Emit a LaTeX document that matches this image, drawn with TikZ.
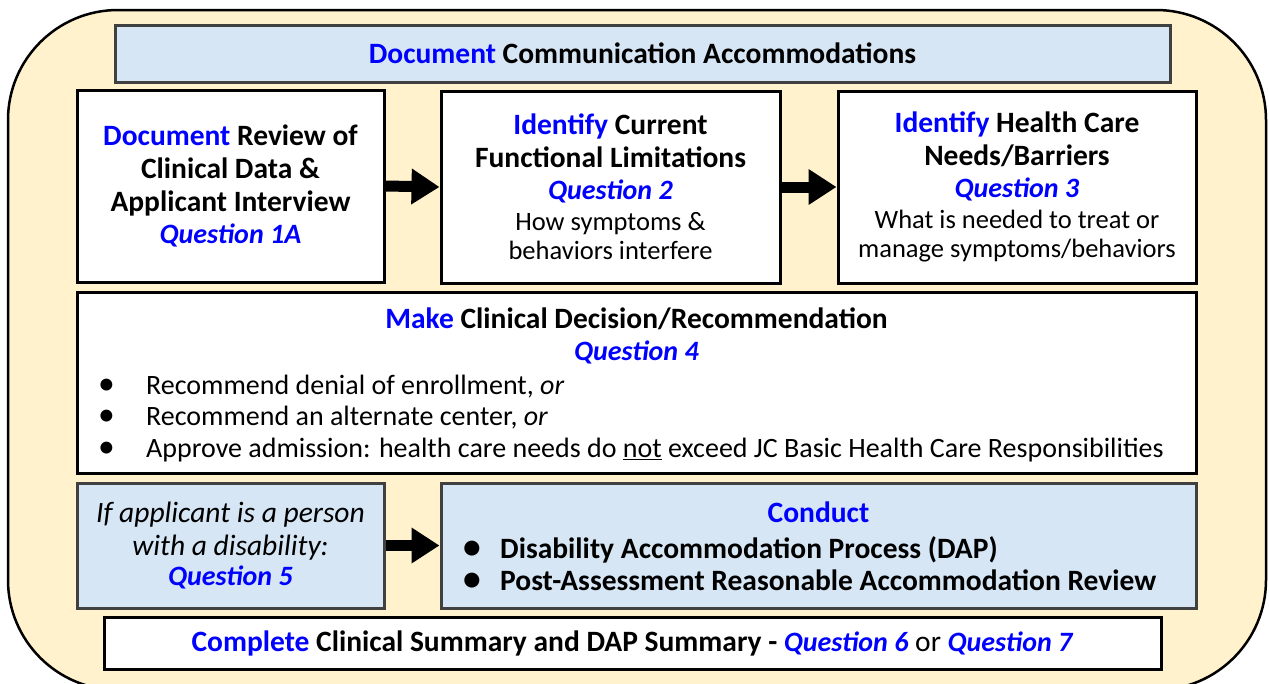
\documentclass[tikz,border=0pt]{standalone}
\usepackage{fontspec}
\setmainfont{Carlito}
\usetikzlibrary{arrows.meta}
\definecolor{cream}{RGB}{255,242,204}
\definecolor{paleblue}{RGB}{214,230,245}
\definecolor{qblue}{RGB}{0,0,255}
\definecolor{edgegray}{RGB}{64,64,64}
\newcommand{\hl}[1]{\textcolor{qblue}{#1}}
\newcommand{\qn}[1]{{\fontsize{28}{33}\selectfont\textcolor{qblue}{\textbf{\textit{#1}}}}}
\newcommand{\bigfont}{\fontsize{29.5}{33}\selectfont}
\newcommand{\midfont}{\fontsize{26.5}{30}\selectfont}
\newcommand{\listfont}{\fontsize{28}{31.5}\selectfont}
\newcommand{\bul}[1]{\makebox[#1][l]{\smash{\scalebox{1.2}{\textbullet}}}}
\begin{document}
\begin{tikzpicture}[x=1pt,y=-1pt,
  panel/.style={draw=black, line width=3pt, fill=white, inner sep=0pt, align=center},
  bluepanel/.style={draw=edgegray, line width=3pt, fill=paleblue, inner sep=0pt, align=center},
  label/.style={inner sep=0pt, align=left},
  flow/.style={line width=11pt, -{Triangle[length=28pt,width=34pt]}}]
\useasboundingbox (0,0) rectangle (1269,683);
% rounded background frame
\draw[fill=cream, line width=2.5pt, rounded corners=110pt] (8,10) rectangle (1266,690);

% top banner
\node[bluepanel, minimum width=1055pt, minimum height=57pt, font=\bigfont\bfseries]
  (comm) at (642.5,53.5) {\hl{Document} Communication Accommodations};

% first row
\node[panel, minimum width=307pt, minimum height=192pt, font=\bigfont]
  (review) at (230.5,186) {\textbf{\hl{Document} Review of}\\ \textbf{Clinical Data \&}\\ \textbf{Applicant Interview}\\[-1pt] \qn{Question 1A}};
\node[panel, minimum width=339pt, minimum height=192pt, font=\bigfont]
  (limits) at (610.5,187) {\textbf{\hl{Identify} Current}\\ \textbf{Functional Limitations}\\[-1pt] \qn{Question 2}\\[-2pt] {\midfont How symptoms \&}\\[-4pt] {\midfont behaviors interfere}};
\node[panel, minimum width=358pt, minimum height=192pt, font=\bigfont]
  (needs) at (1017,187) {\textbf{\hl{Identify} Health Care}\\ \textbf{Needs/Barriers}\\[-1pt] \qn{Question 3}\\[-2pt] {\midfont What is needed to treat or}\\[-4pt] {\midfont manage symptoms/behaviors}};

% decision panel
\node[panel, minimum width=1119pt, minimum height=181pt] (decide) at (636.5,382.5) {};
\node[inner sep=0pt, align=center, font=\bigfont] (decidetitle) at (636.5,336)
  {\textbf{\hl{Make} Clinical Decision/Recommendation}\\[-1pt] \qn{Question 4}};
\node[label, anchor=west, font=\listfont] (options) at (98,418.5)
  {\bul{48pt}Recommend denial of enrollment, \textit{or}\\
   \bul{48pt}Recommend an alternate center, \textit{or}\\
   \bul{48pt}Approve admission: health care needs do \underline{not} exceed JC Basic Health Care Responsibilities};

% second row
\node[bluepanel, minimum width=307pt, minimum height=125pt, font=\bigfont]
  (disab) at (230.5,545.5) {\textit{If applicant is a person}\\ \textit{with a disability:}\\[-3pt] \qn{Question 5}};
\node[bluepanel, minimum width=755pt, minimum height=125pt] (conduct) at (818.5,545.5) {};
\node[inner sep=0pt, font=\bigfont\bfseries] (conducttitle) at (818.5,512) {\hl{Conduct}};
\node[label, anchor=west, font=\bigfont\bfseries, text depth=0pt] (steps) at (463,564)
  {\bul{37pt}Disability Accommodation Process (DAP)\\[-1pt]
   \bul{37pt}Post-Assessment Reasonable Accommodation Review};

% closing banner
\node[panel, minimum width=1057pt, minimum height=52pt, font=\bigfont]
  (summary) at (632.5,643) {\textbf{\hl{Complete} Clinical Summary and DAP Summary -} \qn{Question 6} or \qn{Question 7}};

% arrows
\draw[flow] (review.east) -- (limits.west);
\draw[flow] (limits.east) -- (needs.west);
\draw[flow] (disab.east) -- (conduct.west);
\end{tikzpicture}
\end{document}
